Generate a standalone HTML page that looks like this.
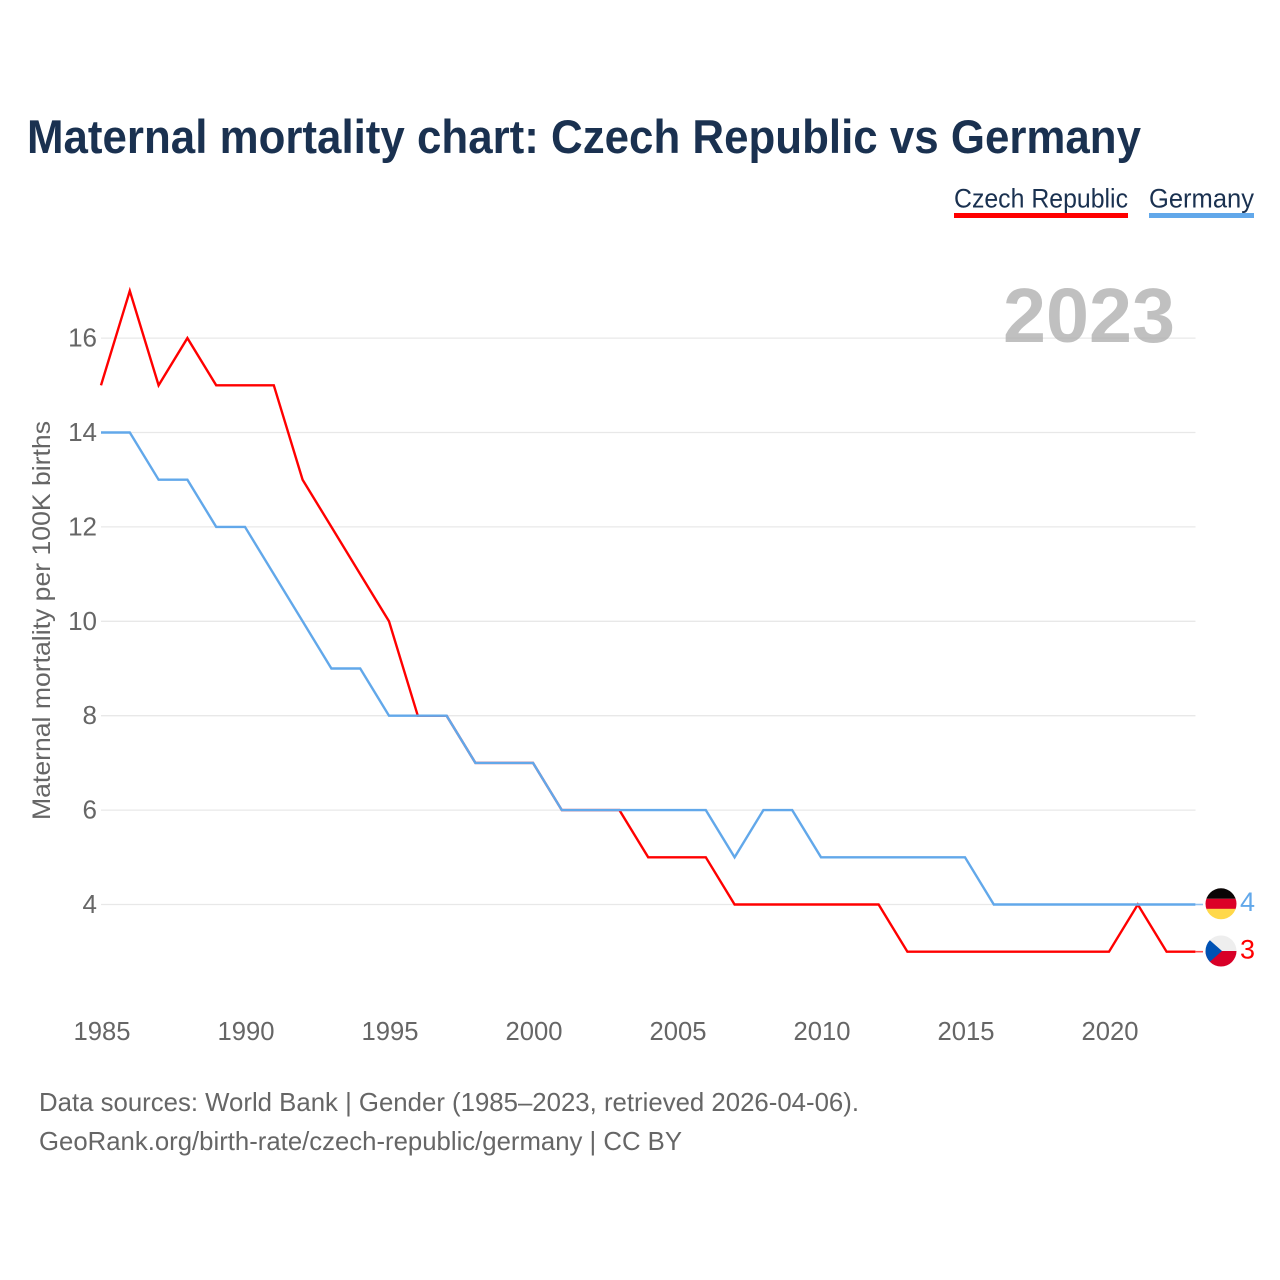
<!DOCTYPE html>
<html lang="en">
<head>
<meta charset="utf-8">
<title>Maternal mortality chart: Czech Republic vs Germany</title>
<style>
html,body{margin:0;padding:0;background:#fff;width:1280px;height:1280px;overflow:hidden}
svg{display:block}
text{font-family:"Liberation Sans",sans-serif}
</style>
</head>
<body>
<svg id="chart" xmlns="http://www.w3.org/2000/svg" width="1280" height="1280" viewBox="0 0 1280 1280">
  <text x="27" y="153" font-size="47" font-weight="700" fill="#1a3150" textLength="1114" lengthAdjust="spacingAndGlyphs">Maternal mortality chart: Czech Republic vs Germany</text>

  <g>
    <text x="954" y="207.5" font-size="27" fill="#1a3150" textLength="174" lengthAdjust="spacingAndGlyphs">Czech Republic</text>
    <rect x="954" y="213" width="174" height="5" fill="#ff0000"/>
  </g>
  <g>
    <text x="1149" y="207.5" font-size="27" fill="#1a3150" textLength="105" lengthAdjust="spacingAndGlyphs">Germany</text>
    <rect x="1149" y="213" width="105" height="5" fill="#62a8ea"/>
  </g>

  <text transform="translate(50,620.5) rotate(-90)" text-anchor="middle" font-size="25" fill="#666666" textLength="399" lengthAdjust="spacingAndGlyphs">Maternal mortality per 100K births</text>

  <g id="grid"></g>
  <g id="yticks"></g>
  <g id="xticks"></g>

  <text x="1003" y="342" font-size="77" font-weight="700" fill="#a8a8a8" fill-opacity="0.72" textLength="172" lengthAdjust="spacingAndGlyphs">2023</text>

  <g id="series"></g>

  <defs>
    <clipPath id="flag-clip-de"><circle id="clip-de" r="15.5"/></clipPath>
    <clipPath id="flag-clip-cz"><circle id="clip-cz" r="15.5"/></clipPath>
  </defs>

  <g id="flag-germany">
    <g clip-path="url(#flag-clip-de)">
      <rect id="de-a" x="1205" width="32" height="11" fill="#0a0505"/>
      <rect id="de-b" x="1205" width="32" height="11" fill="#dc0027"/>
      <rect id="de-c" x="1205" width="32" height="11" fill="#ffd84a"/>
    </g>
  </g>
  <g id="flag-czech">
    <g clip-path="url(#flag-clip-cz)">
      <rect id="cz-a" x="1205" width="32" height="16" fill="#eeeeee"/>
      <rect id="cz-b" x="1205" width="32" height="16" fill="#d80027"/>
      <polygon id="cz-c" fill="#0052b4"/>
    </g>
  </g>

  <g id="end-labels"></g>

  <text x="39" y="1111" font-size="26" fill="#666666" textLength="820" lengthAdjust="spacingAndGlyphs">Data sources: World Bank | Gender (1985–2023, retrieved 2026-04-06).</text>
  <text x="39" y="1150" font-size="26" fill="#666666" textLength="643" lengthAdjust="spacingAndGlyphs">GeoRank.org/birth-rate/czech-republic/germany | CC BY</text>
</svg>

<script>
const years = [1985,1986,1987,1988,1989,1990,1991,1992,1993,1994,1995,1996,1997,1998,1999,2000,2001,2002,2003,2004,2005,2006,2007,2008,2009,2010,2011,2012,2013,2014,2015,2016,2017,2018,2019,2020,2021,2022,2023];
const czechValues = [15,17,15,16,15,15,15,13,12,11,10,8,8,7,7,7,6,6,6,5,5,5,4,4,4,4,4,4,3,3,3,3,3,3,3,3,4,3,3];
const germanyValues = [14,14,13,13,12,12,11,10,9,9,8,8,8,7,7,7,6,6,6,6,6,6,5,6,6,5,5,5,5,5,5,4,4,4,4,4,4,4,4];
const yTickValues = [4,6,8,10,12,14,16];
const xTickValues = [1985,1990,1995,2000,2005,2010,2015,2020];

const NS = 'http://www.w3.org/2000/svg';
const RED = '#ff0000';
const BLUE = '#62a8ea';

function xScale(year){ return 101 + (year - 1985) * 28.8; }
function yScale(v){ return 904.5 - (v - 4) * 47.2; }

function make(tag, attrs, parent){
  const el = document.createElementNS(NS, tag);
  for (const k in attrs) el.setAttribute(k, attrs[k]);
  parent.appendChild(el);
  return el;
}

const gridGroup = document.getElementById('grid');
const yGroup = document.getElementById('yticks');
yTickValues.forEach(function(v){
  const line = make('line', {x1:101, x2:1195.5, y1:yScale(v), y2:yScale(v), stroke:'#e8e8e8', 'stroke-width':1.3}, gridGroup);
  
  
  const t = make('text', {x:97, y:yScale(v) + 8.5, 'text-anchor':'end', 'font-size':26, fill:'#666666'}, yGroup);
  
  
  t.textContent = v;
});

const xGroup = document.getElementById('xticks');
xTickValues.forEach(function(y){
  const t = make('text', {x:xScale(y) + 1, y:1040, 'text-anchor':'middle', 'font-size':26, fill:'#666666', textLength:57, lengthAdjust:'spacingAndGlyphs'}, xGroup);
  
  
  t.textContent = y;
});

function pathFor(values){
  return values.map(function(v, i){
    return (i ? 'L' : 'M') + xScale(years[i]).toFixed(2) + ' ' + yScale(v).toFixed(2);
  }).join(' ');
}

const seriesGroup = document.getElementById('series');
const czechLine = make('path', {d:pathFor(czechValues), fill:'none', stroke:RED, 'stroke-width':2.4, 'stroke-linejoin':'miter'}, seriesGroup);


const germanyLine = make('path', {d:pathFor(germanyValues), fill:'none', stroke:BLUE, 'stroke-width':2.4, 'stroke-linejoin':'miter'}, seriesGroup);



const lastCz = czechValues[czechValues.length - 1];
const lastDe = germanyValues[germanyValues.length - 1];
const yDe = yScale(lastDe) - 0.7;
const yCz = yScale(lastCz) - 0.7;
const flagX = 1221;

const endGroup = document.getElementById('end-labels');
[[lastDe, yDe, BLUE, 'germany'], [lastCz, yCz, RED, 'czech-republic']].forEach(function(row){
  const stub = make('line', {x1:1195.5, x2:1203, y1:row[1] + 0.7, y2:row[1] + 0.7, stroke:row[2], 'stroke-width':1.6, opacity:0.7}, endGroup);
  
  
  const t = make('text', {x:1240, y:row[1] + 7.3, 'font-size':27, fill:row[2]}, endGroup);
  
  
  t.textContent = row[0];
});

['clip-de', 'clip-cz'].forEach(function(id, i){
  const c = document.getElementById(id);
  c.setAttribute('cx', flagX);
  c.setAttribute('cy', i ? yCz : yDe);
});
document.getElementById('de-a').setAttribute('y', yDe - 16);
document.getElementById('de-b').setAttribute('y', yDe - 5);
document.getElementById('de-c').setAttribute('y', yDe + 5);
document.getElementById('cz-a').setAttribute('y', yCz - 16);
document.getElementById('cz-b').setAttribute('y', yCz);
document.getElementById('cz-c').setAttribute('points',
  (flagX - 17) + ',' + (yCz - 16) + ' ' + (flagX + 1) + ',' + yCz + ' ' + (flagX - 17) + ',' + (yCz + 16));
</script>
</body>
</html>
